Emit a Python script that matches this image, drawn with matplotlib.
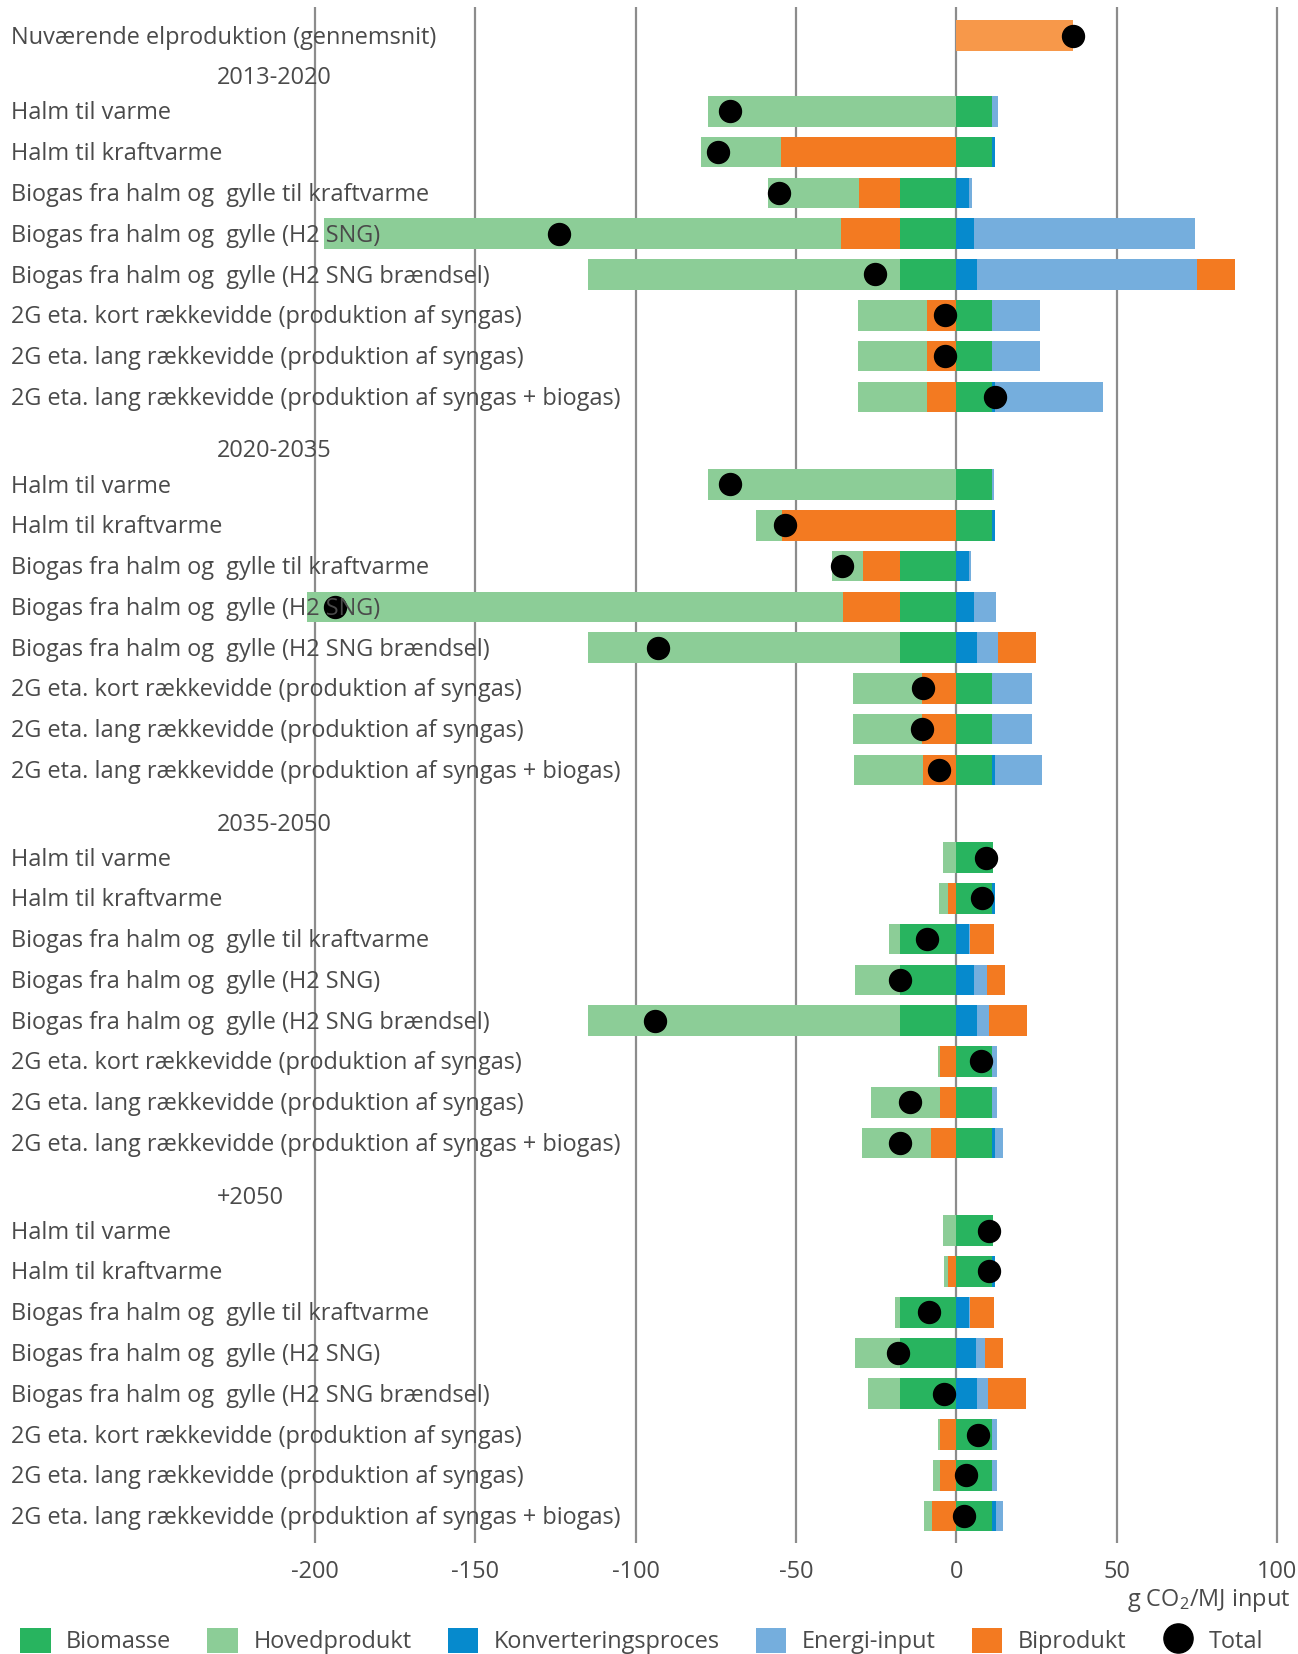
import matplotlib
matplotlib.use("Agg")
import matplotlib.pyplot as plt
from matplotlib.patches import Patch
from matplotlib.lines import Line2D
import numpy as np

plt.rcParams['font.family'] = ['Open Sans', 'DejaVu Sans']
plt.rcParams['mathtext.fontset'] = 'custom'
plt.rcParams['mathtext.rm'] = 'Open Sans'
plt.rcParams['mathtext.it'] = 'Open Sans:italic'
plt.rcParams['axes.unicode_minus'] = False

# ---- data (g CO2 / MJ input) ----
current_label = "Nuværende elproduktion (gennemsnit)"
current_value = [36.5]
current_total = [36.5]

periods = ["2013-2020", "2020-2035", "2035-2050", "+2050"]
pathways = [
    "Halm til varme",
    "Halm til kraftvarme",
    "Biogas fra halm og  gylle til kraftvarme",
    "Biogas fra halm og  gylle (H2 SNG)",
    "Biogas fra halm og  gylle (H2 SNG brændsel)",
    "2G eta. kort rækkevidde (produktion af syngas)",
    "2G eta. lang rækkevidde (produktion af syngas)",
    "2G eta. lang rækkevidde (produktion af syngas + biogas)",
]

# eight values per period, periods in the order above
biomasse = [
    11.2, 11.2, -17.5, -17.5, -17.5, 11.2, 11.2, 11.2,
    11.2, 11.2, -17.5, -17.5, -17.5, 11.2, 11.2, 11.2,
    11.4, 11.2, -17.5, -17.5, -17.5, 11.2, 11.2, 11.2,
    11.4, 11.2, -17.5, -17.5, -17.5, 11.2, 11.2, 11.2,
]
hovedprodukt = [
    -77.5, -25.0, -28.4, -161.2, -97.5, -21.5, -21.5, -21.5,
    -77.5, -8.1, -9.6, -167.1, -97.5, -21.6, -21.6, -21.6,
    -4.1, -2.8, -3.5, -14.1, -97.3, -0.7, -21.6, -21.5,
    -4.1, -1.3, -1.6, -14.1, -10.0, -0.7, -2.2, -2.5,
]
konverteringsproces = [
    0.0, 0.9, 4.0, 5.5, 6.6, 0.0, 0.0, 0.9,
    0.0, 0.9, 4.0, 5.5, 6.6, 0.0, 0.0, 0.9,
    0.0, 0.9, 4.0, 5.5, 6.6, 0.0, 0.0, 0.9,
    0.0, 0.9, 4.0, 6.2, 6.6, 0.0, 0.0, 1.2,
]
energi_input = [
    1.8, 0.0, 0.9, 69.1, 68.6, 15.0, 15.0, 33.7,
    0.5, 0.0, 0.6, 7.0, 6.4, 12.4, 12.4, 14.7,
    0.2, 0.0, 0.4, 4.0, 3.6, 1.6, 1.6, 2.5,
    0.1, 0.0, 0.4, 2.8, 3.2, 1.6, 1.6, 2.2,
]
biprodukt = [
    0.0, -54.7, -12.8, -18.5, 11.9, -9.2, -9.2, -9.2,
    0.0, -54.5, -11.7, -17.9, 12.0, -10.7, -10.7, -10.3,
    0.0, -2.6, 7.3, 5.7, 11.9, -5.0, -5.0, -7.9,
    0.0, -2.6, 7.3, 5.6, 12.0, -5.0, -5.0, -7.6,
]
total = [
    -70.7, -74.2, -55.2, -123.8, -25.4, -3.4, -3.4, 12.0,
    -70.7, -53.5, -35.5, -193.8, -93.0, -10.5, -10.7, -5.4,
    9.2, 8.1, -9.2, -17.5, -94.0, 7.6, -14.3, -17.5,
    10.2, 10.2, -8.6, -18.2, -3.9, 6.7, 3.1, 2.5,
]

legend_names = ["Biomasse", "Hovedprodukt", "Konverteringsproces",
                "Energi-input", "Biprodukt", "Total"]

# ---- styling ----
C_BIO = "#28b45f"
C_HOVED = "#8ccd97"
C_KONV = "#068acd"
C_ENERGI = "#75aedd"
C_BIPR = "#f37a21"
C_CURRENT = "#f7984a"
TEXT = "#4a4a4a"
GRID = "#8c8c8c"
FS = 16.9

fig = plt.figure(figsize=(12.98, 16.54), dpi=100)
ax = fig.add_axes([0.0, 1 - 1543 / 1654, 1.0, 1536 / 1654])

# vertical layout: one slot per row, a gap (with a heading) between periods
n_rows = len(pathways)
first_row = 1.86
period_pitch = 9.15
heading_offset = 0.86
row_y = []
heading_y = []
for k in range(len(periods)):
    start = first_row + k * period_pitch
    heading_y.append(start - heading_offset)
    row_y.extend(start + i for i in range(n_rows))
row_y = np.array(row_y)

bar_h = 0.75
text_dy = 0.05  # optical centring of labels on the bars

# diverging stacks: positive and negative parts accumulate separately
stack = [
    (biomasse, C_BIO),
    (konverteringsproces, C_KONV),
    (energi_input, C_ENERGI),
    (biprodukt, C_BIPR),
    (hovedprodukt, C_HOVED),
]
pos = np.zeros(len(row_y))
neg = np.zeros(len(row_y))
for vals, col in stack:
    v = np.asarray(vals, dtype=float)
    left = np.where(v >= 0, pos, neg)
    ax.barh(row_y, v, left=left, height=bar_h, color=col, linewidth=0, zorder=2)
    pos += np.clip(v, 0, None)
    neg += np.clip(v, None, 0)

ax.barh([0], current_value, height=bar_h, color=C_CURRENT, linewidth=0, zorder=2)

ax.plot(total, row_y, linestyle="none", marker="o", markersize=15.8,
        color="black", zorder=4)
ax.plot(current_total, [0], linestyle="none", marker="o", markersize=15.8,
        color="black", zorder=4)

# row labels, drawn inside the plotting area
lbl_tr = ax.get_yaxis_transform()
ax.text(11 / 1298, 0 + text_dy, current_label, transform=lbl_tr, ha="left",
        va="center", fontsize=FS, color=TEXT, zorder=5)
for k, p in enumerate(periods):
    ax.text(217 / 1298, heading_y[k] + text_dy, p, transform=lbl_tr,
            ha="left", va="center", fontsize=FS, color=TEXT, zorder=5)
    for i, name in enumerate(pathways):
        ax.text(11 / 1298, row_y[k * n_rows + i] + text_dy, name,
                transform=lbl_tr, ha="left", va="center", fontsize=FS,
                color=TEXT, zorder=5)

ax.set_xlim(-298.3, 106.6)
ax.set_ylim(36.97, -0.70)
ax.set_xticks([-200, -150, -100, -50, 0, 50, 100])
ax.set_yticks([])
ax.grid(axis="x", color=GRID, linewidth=1.6, zorder=0)
ax.set_axisbelow(True)
for s in ax.spines.values():
    s.set_visible(False)
ax.tick_params(axis="x", length=0, pad=12, labelsize=FS, labelcolor=TEXT)

fig.text(1290 / 1298, 1 - 1600 / 1654, "g CO$_2$/MJ input", ha="right",
         va="center", fontsize=FS, color=TEXT)

handles = [
    Patch(facecolor=C_BIO, edgecolor="none"),
    Patch(facecolor=C_HOVED, edgecolor="none"),
    Patch(facecolor=C_KONV, edgecolor="none"),
    Patch(facecolor=C_ENERGI, edgecolor="none"),
    Patch(facecolor=C_BIPR, edgecolor="none"),
    Line2D([], [], linestyle="none", marker="o", markersize=21,
           color="black"),
]
fig.legend(handles, legend_names, ncol=6, loc="center left",
           bbox_to_anchor=(20 / 1298, 1 - 1641 / 1654), frameon=False,
           fontsize=FS, labelcolor=TEXT, borderpad=0, borderaxespad=0,
           handlelength=1.30, handleheight=1.30, handletextpad=0.66,
           columnspacing=1.54)

fig.savefig("out.png", dpi=100)
